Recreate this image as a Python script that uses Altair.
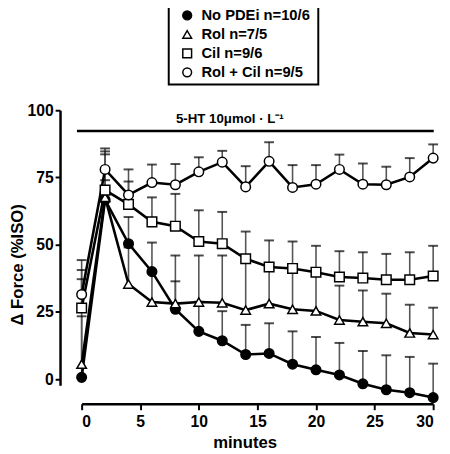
import altair as alt
import pandas as pd

minutes = list(range(0, 31, 2))
series_names = ["No PDEi n=10/6", "Rol n=7/5", "Cil n=9/6", "Rol + Cil n=9/5"]

nopdei = [0.7, 66.7, 50.4, 40.0, 26.0, 17.8, 14.3, 9.2, 9.6, 5.6, 3.5, 1.6, -1.7, -3.9, -5.0, -6.8]
nopdei_up = [37.2, 83.6, 60.3, 50.8, 36.4, 28.8, 25.3, 20.2, 20.8, 17.8, 15.7, 13.5, 10.5, 8.9, 8.3, 5.8]
rol = [5.6, 67.6, 35.4, 28.7, 28.1, 28.7, 28.4, 25.7, 28.1, 26.0, 25.4, 22.0, 21.4, 20.8, 17.2, 16.6]
rol_up = [23.4, 74.0, 49.0, 39.5, 46.0, 46.0, 46.0, 44.0, 41.0, 40.5, 39.0, 34.8, 33.0, 31.8, 27.7, 26.6]
cil = [26.5, 70.3, 65.0, 58.5, 56.9, 51.2, 50.4, 44.8, 41.7, 41.2, 39.8, 38.0, 37.6, 37.0, 37.0, 38.4]
cil_up = [40.6, 84.7, 73.5, 67.6, 68.9, 62.8, 62.2, 54.9, 51.6, 51.2, 49.6, 47.6, 47.2, 46.6, 47.2, 49.6]
rolcil = [31.5, 78.0, 68.5, 73.1, 72.3, 77.1, 80.7, 71.5, 81.0, 71.3, 72.5, 78.0, 72.5, 72.3, 75.2, 82.2]
rolcil_up = [44.3, 85.8, 78.0, 79.8, 80.0, 82.5, 84.9, 79.2, 88.1, 79.6, 79.6, 83.5, 80.2, 79.0, 82.2, 87.3]

annot_text = "5-HT 10\u03bcmol \u00b7 L\u207b\u00b9"

rows = []
for name, vals, ups in zip(series_names, [nopdei, rol, cil, rolcil],
                           [nopdei_up, rol_up, cil_up, rolcil_up]):
    for t, v, u in zip(minutes, vals, ups):
        rows.append({"series": name, "minutes": t, "force": v, "upper": u})
df = pd.DataFrame(rows)

rule_df = pd.DataFrame({"minutes": [-0.4], "minutes_end": [30.05], "force": [92.3]})
text_df = pd.DataFrame({"minutes": [12.65], "force": [96.7], "label": [annot_text]})

FONT = "Liberation Sans"

xscale = alt.Scale(domain=[0, 30], nice=False, zero=False)
yscale = alt.Scale(domain=[-2.2, 100], nice=False, zero=False)
xaxis = alt.Axis(values=[0, 5, 10, 15, 20, 25, 30], offset=19, title="minutes",
                 grid=False, domainColor="black", domainWidth=2.5, tickColor="black",
                 tickWidth=2, tickSize=6, labelFont=FONT, labelFontSize=16,
                 labelFontWeight="bold", labelColor="black", labelPadding=4,
                 titleFont=FONT, titleFontSize=17, titleFontWeight="bold",
                 titleColor="black", titlePadding=5, titleX=166)
yaxis = alt.Axis(values=[0, 25, 50, 75, 100], offset=22, title="\u0394 Force (%ISO)",
                 grid=False, domainColor="black", domainWidth=2.5, tickColor="black",
                 tickWidth=2, tickSize=5, labelFont=FONT, labelFontSize=16,
                 labelFontWeight="bold", labelColor="black", labelPadding=2,
                 titleFont=FONT, titleFontSize=17, titleFontWeight="bold",
                 titleColor="black", titlePadding=1, titleY=157)

X = alt.X("minutes:Q", scale=xscale, axis=xaxis)
Y = alt.Y("force:Q", scale=yscale, axis=yaxis)

base = alt.Chart(df)

bars = base.mark_rule(color="#555555", strokeWidth=1.6).encode(
    x=X, y=Y, y2="upper:Q")
caps = base.mark_tick(color="black", orient="horizontal", size=10, thickness=2).encode(
    x=X, y=alt.Y("upper:Q", scale=yscale, axis=yaxis))
lines = base.mark_line(color="black", strokeWidth=2.6).encode(
    x=X, y=Y, detail="series:N", order="minutes:Q")

legend = alt.Legend(title=None, orient="none", legendX=92, legendY=-112,
                    padding=8, rowPadding=3.3,
                    labelFont=FONT, labelFontSize=15, labelFontWeight="bold",
                    labelColor="black", symbolSize=80, symbolStrokeColor="black",
                    symbolStrokeWidth=1.5, labelOffset=7)

points = base.mark_point(filled=True, opacity=1, strokeWidth=1.5, size=95).encode(
    x=X, y=Y,
    shape=alt.Shape("series:N",
                    scale=alt.Scale(domain=series_names,
                                    range=["circle", "triangle-up", "square", "circle"]),
                    legend=legend),
    fill=alt.Fill("series:N",
                  scale=alt.Scale(domain=series_names,
                                  range=["black", "white", "white", "white"]),
                  legend=legend),
    stroke=alt.Stroke("series:N",
                      scale=alt.Scale(domain=series_names,
                                      range=["black", "black", "black", "black"]),
                      legend=legend),
)

hrule = alt.Chart(rule_df).mark_rule(color="black", strokeWidth=2.5).encode(
    x=X, x2="minutes_end:Q", y=Y)
htext = alt.Chart(text_df).mark_text(font=FONT, fontSize=13.5, fontWeight="bold",
                                     color="black", align="center",
                                     baseline="middle").encode(
    x=X, y=Y, text="label:N")

# frame drawn around the legend box
legend_frame = alt.Chart(pd.DataFrame({"k": [0]})).mark_rect(
    fill=None, fillOpacity=0, stroke="black", strokeWidth=2).encode(
    x=alt.value(88.7), x2=alt.value(241), y=alt.value(-110), y2=alt.value(-26.3))

chart = alt.layer(bars, caps, lines, points, hrule, htext, legend_frame).properties(
    width=358, height=280,
    padding={"left": 75, "top": 100, "right": 9, "bottom": 66},
    autosize=alt.AutoSizeParams(type="none"),
).configure_view(stroke=None)

chart.save("out.html", embed_options={"renderer": "svg", "actions": False})
